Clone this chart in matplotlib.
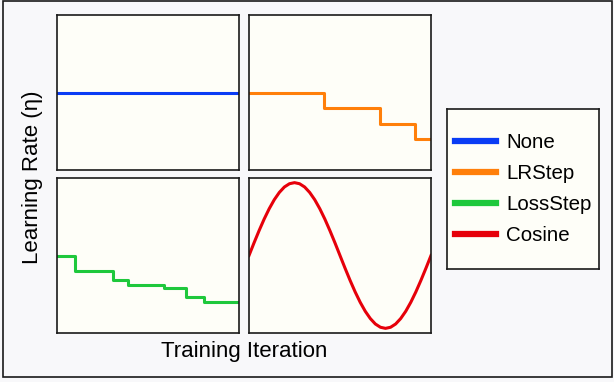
import matplotlib
matplotlib.use("Agg")
from matplotlib import pyplot as plt
from matplotlib.patches import Rectangle

plt.rcParams['font.family'] = ['Liberation Sans', 'DejaVu Sans']

# schedules, iteration on a 0..100 scale, lr on 0..1
none_x = [0, 100]
none_y = [0.5, 0.5]

lrstep_x = [0, 41, 72, 91, 100]
lrstep_y = [0.5, 0.4, 0.3, 0.2, 0.2]

lossstep_x = [0, 10, 31, 39, 59, 71, 81, 100]
lossstep_y = [0.5, 0.4, 0.34, 0.31, 0.29, 0.23, 0.2, 0.2]

cos_x = [0, 2.78, 5.56, 8.33, 11.11, 13.89, 16.67, 19.44, 22.22, 25, 27.78, 30.56,
         33.33, 36.11, 38.89, 41.67, 44.44, 47.22, 50, 52.78, 55.56, 58.33, 61.11,
         63.89, 66.67, 69.44, 72.22, 75, 77.78, 80.56, 83.33, 86.11, 88.89, 91.67,
         94.44, 97.22, 100]
cos_y = [0.5, 0.582, 0.661, 0.735, 0.802, 0.86, 0.907, 0.942, 0.963, 0.97, 0.963,
         0.942, 0.907, 0.86, 0.802, 0.735, 0.661, 0.582, 0.5, 0.418, 0.339, 0.265,
         0.198, 0.14, 0.093, 0.058, 0.037, 0.03, 0.037, 0.058, 0.093, 0.14, 0.198,
         0.265, 0.339, 0.418, 0.5]

names = ['None', 'LRStep', 'LossStep', 'Cosine']
colors = ['#0a3cf5', '#ff7f0a', '#1ec83c', '#e6000a']

fig_bg = '#f8f8fa'
ax_bg = '#fefef8'

fig = plt.figure(figsize=(6.14, 3.82), dpi=100, facecolor=fig_bg)

W, H = 614.0, 382.0
def box(x0, y0, x1, y1):
    return [x0 / W, 1 - y1 / H, (x1 - x0) / W, (y1 - y0) / H]

panels = [box(57, 15, 239, 170), box(249, 15, 431, 170),
          box(57, 178, 239, 333), box(249, 178, 431, 333)]
series = [(none_x, none_y, 'default'), (lrstep_x, lrstep_y, 'steps-post'),
          (lossstep_x, lossstep_y, 'steps-post'), (cos_x, cos_y, 'default')]

lines = []
for rect, (xs, ys, ds), c, name in zip(panels, series, colors, names):
    ax = fig.add_axes(rect, facecolor=ax_bg)
    ln, = ax.plot(xs, ys, color=c, lw=2.2, drawstyle=ds, label=name,
                  solid_joinstyle='round')
    lines.append(ln)
    ax.set_xlim(0, 100)
    ax.set_ylim(0, 1)
    ax.set_xticks([])
    ax.set_yticks([])
    for s in ax.spines.values():
        s.set_linewidth(1.2)
        s.set_color('#1a1a1a')

# legend lives in its own framed box
lax = fig.add_axes(box(447, 109, 599, 269), facecolor=ax_bg)
lax.set_xticks([])
lax.set_yticks([])
for s in lax.spines.values():
    s.set_linewidth(1.2)
    s.set_color('#1a1a1a')
lax.legend(lines, names, loc='center', frameon=False, fontsize=14.8,
           handlelength=2.0, handletextpad=0.5, labelspacing=0.58)
for h in lax.get_legend().get_lines():
    h.set_linewidth(4.5)

fig.text(244 / W, 1 - 352 / H, 'Training Iteration', ha='center', va='center', fontsize=16)
fig.text(33 / W, 1 - 177 / H, 'Learning Rate (η)', ha='center', va='center',
         rotation=90, fontsize=16)

fig.patches.append(Rectangle((3 / W, 1 - 377 / H), 609 / W, 376 / H, transform=fig.transFigure,
                             fill=False, edgecolor='#1a1a1a', lw=1.2))

fig.savefig('out.png', dpi=100, facecolor=fig_bg)
